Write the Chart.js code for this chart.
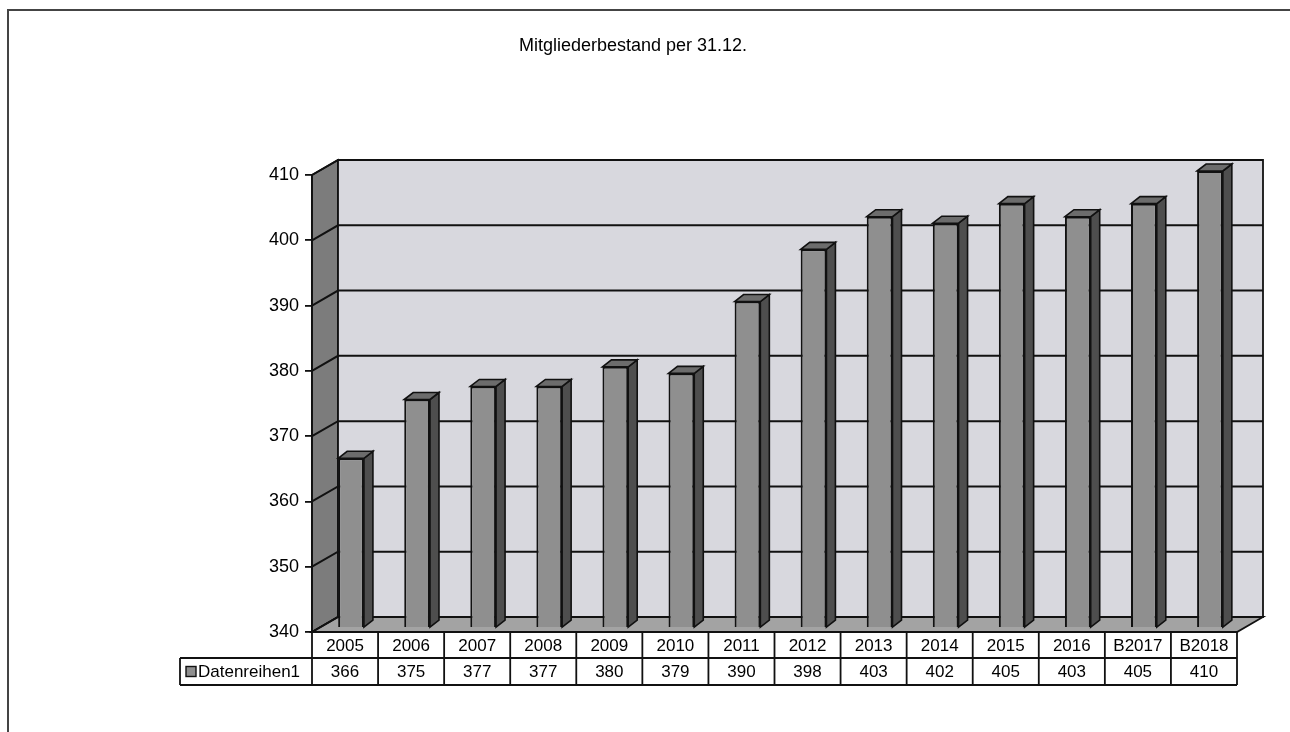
<!DOCTYPE html>
<html>
<head>
<meta charset="utf-8">
<script src="https://cdn.jsdelivr.net/npm/chart.js@4.4.0/dist/chart.umd.min.js"></script>
<style>
  html, body { margin: 0; padding: 0; background: #fff; }
</style>
</head>
<body>
<canvas id="myChart" width="1290" height="732"></canvas>
<script>
const years = ['2005', '2006', '2007', '2008', '2009', '2010', '2011', '2012', '2013', '2014', '2015', '2016', 'B2017', 'B2018'];
const members = [366, 375, 377, 377, 380, 379, 390, 398, 403, 402, 405, 403, 405, 410];
const yTicks = [340, 350, 360, 370, 380, 390, 400, 410];
const seriesName = 'Datenreihen1';
const title = 'Mitgliederbestand per 31.12.';

const FONT = '"Liberation Sans", Arial, sans-serif';

// fake 3d: back wall offset, bar offset and bar depth
const DX = 26, DY = -15;
const BX = 6, BY = -4;
const SX = 9, SY = -7;

function poly(ctx, pts, fill) {
    ctx.beginPath();
    ctx.moveTo(pts[0][0], pts[0][1]);
    for (let i = 1; i < pts.length; i++) ctx.lineTo(pts[i][0], pts[i][1]);
    ctx.closePath();
    ctx.fillStyle = fill;
    ctx.fill();
    ctx.stroke();
}

const threeD = {
    id: 'threeD',
    beforeDraw(chart) {
        const ctx = chart.ctx;
        const {left, right, top, bottom} = chart.chartArea;
        const y = chart.scales.y;
        ctx.save();
        ctx.fillStyle = '#fff';
        ctx.fillRect(0, 0, chart.width, chart.height);

        // page frame
        ctx.strokeStyle = '#444';
        ctx.lineWidth = 2;
        ctx.beginPath();
        ctx.moveTo(8, 732);
        ctx.lineTo(8, 10);
        ctx.lineTo(1290, 10);
        ctx.stroke();

        ctx.strokeStyle = '#111';
        ctx.lineWidth = 1.8;
        // side wall, back wall, floor
        poly(ctx, [[left, top], [left + DX, top + DY], [left + DX, bottom + DY], [left, bottom]], '#7c7c7c');
        poly(ctx, [[left + DX, top + DY], [right + DX, top + DY], [right + DX, bottom + DY], [left + DX, bottom + DY]], '#d8d8de');
        poly(ctx, [[left, bottom], [left + DX, bottom + DY], [right + DX, bottom + DY], [right, bottom]], '#a3a3a3');

        // grid lines over side and back wall
        ctx.lineWidth = 2;
        yTicks.forEach(v => {
            const py = y.getPixelForValue(v);
            ctx.beginPath();
            ctx.moveTo(left, py);
            ctx.lineTo(left + DX, py + DY);
            ctx.lineTo(right + DX, py + DY);
            ctx.stroke();
        });
        ctx.restore();
    },
    beforeDatasetsDraw(chart) {
        chart.ctx.save();
        chart.ctx.translate(BX, BY);
    },
    afterDatasetsDraw(chart) {
        const ctx = chart.ctx;
        ctx.strokeStyle = '#111';
        ctx.lineWidth = 1.6;
        chart.getDatasetMeta(0).data.forEach(bar => {
            const r = bar.x + bar.width / 2;
            const l = bar.x - bar.width / 2;
            poly(ctx, [[r, bar.y], [r + SX, bar.y + SY], [r + SX, bar.base + SY], [r, bar.base]], '#4e4e4e');
            poly(ctx, [[l, bar.y], [l + SX, bar.y + SY], [r + SX, bar.y + SY], [r, bar.y]], '#6c6c6c');
        });
        ctx.restore();
    },
    afterDraw(chart) {
        const ctx = chart.ctx;
        const {left, right, bottom} = chart.chartArea;
        const x = chart.scales.x;
        const half = (right - left) / years.length / 2;
        const r1 = bottom, r2 = bottom + 26, r3 = bottom + 53;
        const legendLeft = 180;

        ctx.save();
        ctx.fillStyle = '#000';
        ctx.textAlign = 'center';
        ctx.textBaseline = 'middle';
        ctx.font = '18px ' + FONT;
        ctx.fillText(title, 633, 46);

        ctx.strokeStyle = '#111';
        ctx.lineWidth = 1.8;
        ctx.beginPath();
        ctx.moveTo(left, r1); ctx.lineTo(right, r1);
        ctx.moveTo(legendLeft, r2); ctx.lineTo(right, r2);
        ctx.moveTo(legendLeft, r3); ctx.lineTo(right, r3);
        ctx.moveTo(legendLeft, r2); ctx.lineTo(legendLeft, r3);
        ctx.moveTo(left, r1); ctx.lineTo(left, r3);
        years.forEach((yr, i) => {
            const e = x.getPixelForValue(i) + half;
            ctx.moveTo(e, r1); ctx.lineTo(e, r3);
        });
        ctx.stroke();

        ctx.font = '17px ' + FONT;
        years.forEach((yr, i) => {
            const cx = x.getPixelForValue(i);
            ctx.fillText(yr, cx, (r1 + r2) / 2 + 1);
            ctx.fillText(String(members[i]), cx, (r2 + r3) / 2 + 1);
        });

        // legend key
        const my = (r2 + r3) / 2;
        ctx.fillStyle = '#8f8f8f';
        ctx.lineWidth = 1.4;
        ctx.fillRect(186, my - 5, 10, 10);
        ctx.strokeRect(186, my - 5, 10, 10);
        ctx.fillStyle = '#000';
        ctx.textAlign = 'left';
        ctx.fillText(seriesName, 198, my + 1);
        ctx.restore();
    }
};

new Chart('myChart', {
    type: 'bar',
    data: {
        labels: years,
        datasets: [{
            label: seriesName,
            data: members,
            base: yTicks[0],
            backgroundColor: '#8f8f8f',
            borderColor: '#111',
            borderWidth: 2,
            barPercentage: 0.39,
            categoryPercentage: 1,
            clip: false
        }]
    },
    options: {
        responsive: false,
        animation: false,
        devicePixelRatio: 1,
        layout: { padding: { left: 232, right: 53, top: 175, bottom: 100 } },
        plugins: {
            legend: { display: false },
            title: { display: false },
            tooltip: { enabled: false }
        },
        scales: {
            x: { display: false },
            y: {
                min: 340,
                max: 410,
                afterFit(scale) { scale.width = 80; },
                afterBuildTicks(scale) { scale.ticks = yTicks.map(v => ({ value: v })); },
                ticks: {
                    color: '#000',
                    padding: 6,
                    font: { family: FONT, size: 18 }
                },
                grid: {
                    drawOnChartArea: false,
                    tickLength: 7,
                    color: '#111',
                    lineWidth: 1.8
                },
                border: { display: true, color: '#111', width: 1.8 }
            }
        }
    },
    plugins: [threeD]
});
</script>
</body>
</html>
